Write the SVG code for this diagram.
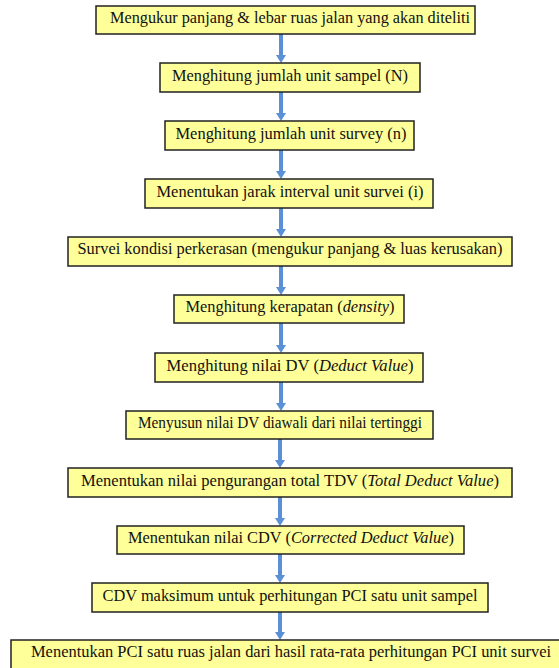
<svg xmlns="http://www.w3.org/2000/svg" width="559" height="668" viewBox="0 0 559 668">
<style>
.box{fill:#FFFF99;stroke:#222;stroke-width:1.5}
.t{font-family:"Liberation Serif","Times New Roman",serif;font-size:16.3px;fill:#111;text-anchor:middle}
.i{font-style:italic}
.ar{stroke:#5B8FD6;stroke-width:4;fill:none}
.hd{fill:#5B8FD6}
</style>
<rect width="559" height="668" fill="#fff"/>
<g id="connectors">
<line class="ar" x1="281" y1="34" x2="281" y2="56"/><polygon class="hd" points="276,55 286,55 281,63"/>
<line class="ar" x1="281" y1="92" x2="281" y2="114"/><polygon class="hd" points="276,113 286,113 281,121"/>
<line class="ar" x1="281" y1="150" x2="281" y2="172"/><polygon class="hd" points="276,171 286,171 281,179"/>
<line class="ar" x1="281" y1="208" x2="281" y2="230"/><polygon class="hd" points="276,229 286,229 281,237"/>
<line class="ar" x1="281" y1="266" x2="281" y2="288"/><polygon class="hd" points="276,287 286,287 281,295"/>
<line class="ar" x1="281" y1="323" x2="281" y2="346"/><polygon class="hd" points="276,345 286,345 281,353"/>
<line class="ar" x1="281" y1="382" x2="281" y2="404"/><polygon class="hd" points="276,403 286,403 281,411"/>
<line class="ar" x1="280" y1="439" x2="280" y2="461"/><polygon class="hd" points="275,460 285,460 280,468"/>
<line class="ar" x1="280" y1="497" x2="280" y2="519"/><polygon class="hd" points="275,518 285,518 280,526"/>
<line class="ar" x1="280" y1="554" x2="280" y2="576"/><polygon class="hd" points="275,575 285,575 280,583"/>
<line class="ar" x1="280" y1="612" x2="280" y2="633"/><polygon class="hd" points="275,632 285,632 280,640"/>
</g>
<g id="n1"><rect class="box" x="96" y="6" width="379" height="28"/><text class="t" x="290" y="23" textLength="360" lengthAdjust="spacingAndGlyphs">Mengukur panjang &amp; lebar ruas jalan yang akan diteliti</text></g>
<g id="n2"><rect class="box" x="160" y="63" width="260" height="29"/><text class="t" x="290" y="81" textLength="236" lengthAdjust="spacingAndGlyphs">Menghitung jumlah unit sampel (N)</text></g>
<g id="n3"><rect class="box" x="165" y="121" width="249" height="29"/><text class="t" x="291" y="139" textLength="231" lengthAdjust="spacingAndGlyphs">Menghitung jumlah unit survey (n)</text></g>
<g id="n4"><rect class="box" x="145" y="179" width="288" height="29"/><text class="t" x="290" y="197" textLength="267" lengthAdjust="spacingAndGlyphs">Menentukan jarak interval unit survei (i)</text></g>
<g id="n5"><rect class="box" x="68" y="237" width="444" height="29"/><text class="t" x="290" y="254" textLength="425" lengthAdjust="spacingAndGlyphs">Survei kondisi perkerasan (mengukur panjang &amp; luas kerusakan)</text></g>
<g id="n6"><rect class="box" x="174" y="295" width="230" height="28"/><text class="t" x="290" y="312" textLength="209" lengthAdjust="spacingAndGlyphs">Menghitung kerapatan (<tspan class="i">density</tspan>)</text></g>
<g id="n7"><rect class="box" x="155" y="353" width="268" height="29"/><text class="t" x="290" y="371" textLength="247" lengthAdjust="spacingAndGlyphs">Menghitung nilai DV (<tspan class="i">Deduct Value</tspan>)</text></g>
<g id="n8"><rect class="box" x="126" y="411" width="307" height="28"/><text class="t" x="280" y="428" textLength="284" lengthAdjust="spacingAndGlyphs">Menyusun nilai DV diawali dari nilai tertinggi</text></g>
<g id="n9"><rect class="box" x="68" y="468" width="444" height="29"/><text class="t" x="290" y="486" textLength="418" lengthAdjust="spacingAndGlyphs">Menentukan nilai pengurangan total TDV (<tspan class="i">Total Deduct Value</tspan>)</text></g>
<g id="n10"><rect class="box" x="117" y="526" width="347" height="28"/><text class="t" x="291" y="543" textLength="326" lengthAdjust="spacingAndGlyphs">Menentukan nilai CDV (<tspan class="i">Corrected Deduct Value</tspan>)</text></g>
<g id="n11"><rect class="box" x="92" y="583" width="396" height="29"/><text class="t" x="290" y="601" textLength="375" lengthAdjust="spacingAndGlyphs">CDV maksimum untuk perhitungan PCI satu unit sampel</text></g>
<g id="n12"><rect class="box" x="11" y="640" width="560" height="40"/><text class="t" x="291" y="657" textLength="520" lengthAdjust="spacingAndGlyphs">Menentukan PCI satu ruas jalan dari hasil rata-rata perhitungan PCI unit survei</text></g>
</svg>
